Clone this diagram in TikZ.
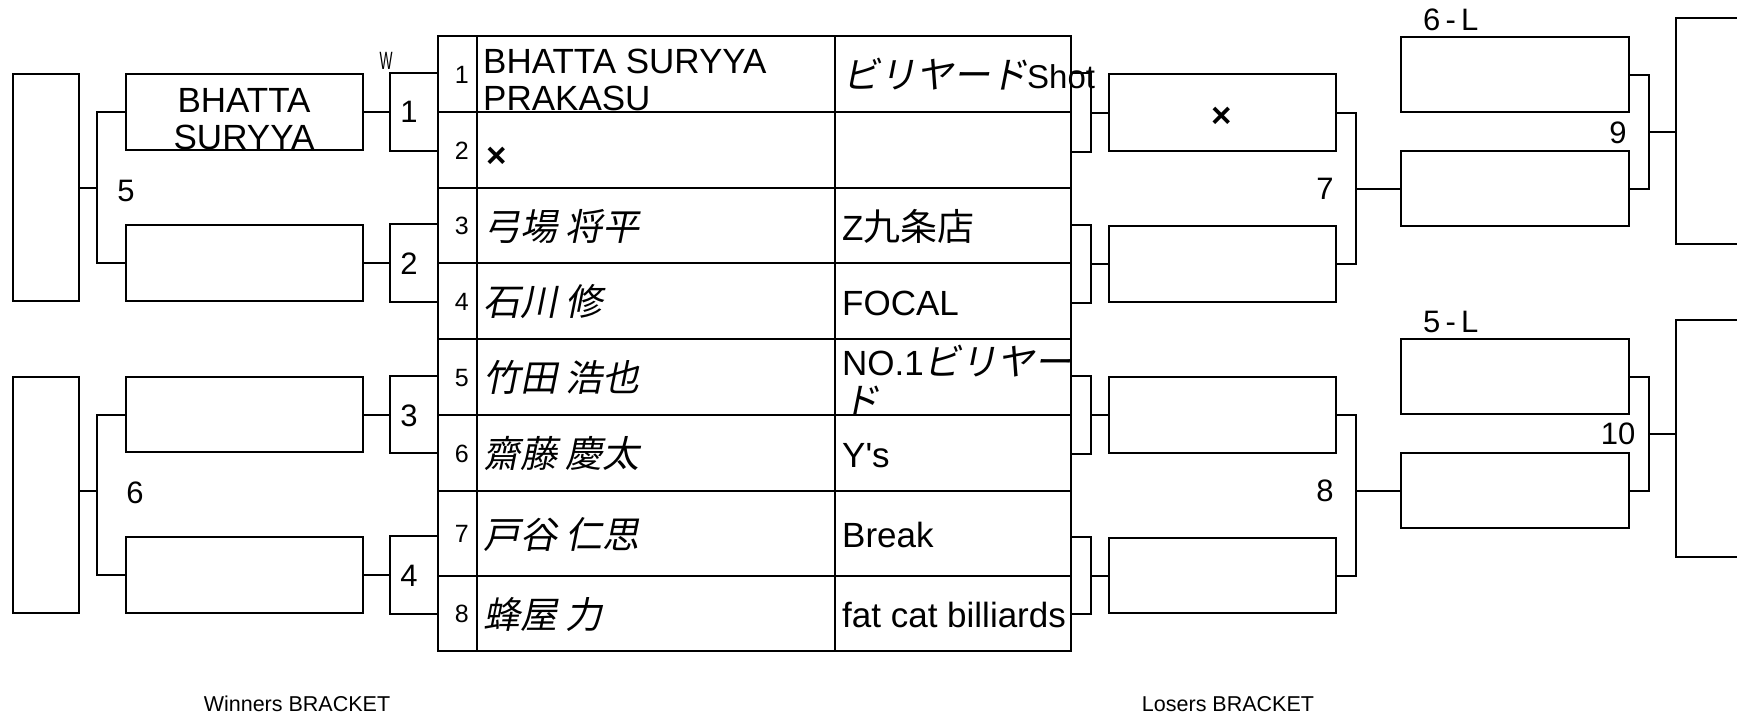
\documentclass[tikz,border=0pt]{standalone}
\usepackage{fontspec}
\setmainfont{Liberation Sans}[Ligatures=TeXOff]
\newfontfamily\jpf[FakeSlant=0.2]{Noto Sans CJK JP}
\newfontfamily\jpu{Noto Sans CJK JP}
\newfontfamily\narrowf[FakeStretch=0.55]{Liberation Sans}
\newcommand\jpi{\jpf\fontsize{37}{37}\selectfont}
\newcommand\jpr{\jpu\fontsize{37}{37}\selectfont}
\usetikzlibrary{calc}
\tikzset{
  ln/.style={line width=2pt},
  box/.style={draw, line width=2pt, inner sep=0pt, rectangle},
  wbox/.style={box, minimum width=237pt},
  lbox/.style={box, minimum width=227pt},
  rbox/.style={box, minimum width=228pt},
  fbox/.style={box, minimum width=66pt},
  cell/.style={draw, line width=2pt, inner sep=0pt, rectangle},
  txt/.style={inner sep=0pt, font=\fontsize{35}{37}\selectfont, anchor=base west},
  num/.style={inner sep=0pt, font=\fontsize{31}{33}\selectfont},
  rowno/.style={inner sep=0pt, font=\fontsize{25}{27}\selectfont, anchor=base east},
  captxt/.style={inner sep=0pt, font=\fontsize{21.5}{23}\selectfont},
}
\begin{document}
\begin{tikzpicture}[x=1pt,y=-1pt]
\path[use as bounding box] (0,0) rectangle (1737,720);
\clip (0,0) rectangle (1737,720);

% ---------- table ----------
\foreach \i/\c/\h in {1/74/76, 2/150/76, 3/225.5/75, 4/301/76, 5/377/76, 6/453/76, 7/533.5/85, 8/613.5/75}{
  \node[cell, minimum width=39pt, minimum height=\h pt] (n\i) at (457.5,\c) {};
  \node[cell, minimum width=358pt, minimum height=\h pt] (m\i) at (656,\c) {};
  \node[cell, minimum width=236pt, minimum height=\h pt] (c\i) at (953,\c) {};
}
\foreach \i/\b in {1/83, 2/159, 3/234.5, 4/310, 5/386, 6/462, 7/542.5, 8/622.5}{
  \node[rowno] (rn\i) at (469,\b) {\i};
}

% ---------- winners bracket ----------
\node[fbox, minimum height=227pt] (wf1) at (46,187.5) {};
\node[fbox, minimum height=236pt] (wf2) at (46,495) {};
\node[wbox, minimum height=76pt] (wa) at (244.5,112) {};
\node[wbox, minimum height=76pt] (wb) at (244.5,263) {};
\node[wbox, minimum height=75pt] (wc) at (244.5,414.5) {};
\node[wbox, minimum height=76pt] (wd) at (244.5,575) {};

\draw[ln] (wa.west) -- ++(-28,0) coordinate (p5) |- (wb.west);
\draw[ln] (wf1.east) -- (wf1.east -| p5);
\draw[ln] (wc.west) -- ++(-28,0) coordinate (p6) |- (wd.west);
\draw[ln] ([yshift=4pt]wf2.east) -- ([yshift=4pt]wf2.east -| p6);

\foreach \t/\r/\k in {wa/n1/k1, wb/n3/k2, wc/n5/k3, wd/n7/k4}{
  \draw[ln] (\r.west |- \t.north) -- ++(-47,0) coordinate (\k) -- (\k |- \t.south) -- (\r.west |- \t.south);
  \draw[ln] (\t.east) -- (\t.east -| \k);
}
\node[num] (g1) at (409,112) {1};
\node[num] (g2) at (409,264) {2};
\node[num] (g3) at (409,416) {3};
\node[num] (g4) at (409,576) {4};
\node[num] (g5) at (126,191) {5};
\node[num] (g6) at (135,493) {6};
\node[inner sep=0pt, font=\narrowf\fontsize{25}{27}\selectfont] (wl) at (386,61) {W};

\node[txt, anchor=base] (wat) at (244,112) {\begin{tabular}[t]{@{}c@{}}BHATTA\\SURYYA\end{tabular}};

% ---------- losers bracket ----------
\node[lbox, minimum height=77pt] (la) at (1222.5,112.5) {};
\node[lbox, minimum height=76pt] (lb) at (1222.5,264) {};
\node[lbox, minimum height=76pt] (lc) at (1222.5,415) {};
\node[lbox, minimum height=75pt] (ld) at (1222.5,575.5) {};
\node[rbox, minimum height=75pt] (lf) at (1515,74.5) {};
\node[rbox, minimum height=75pt] (le) at (1515,188.5) {};
\node[rbox, minimum height=75pt] (lg) at (1515,376.5) {};
\node[rbox, minimum height=75pt] (lh) at (1515,490.5) {};
\node[box, minimum width=124pt, minimum height=226pt] (lfin1) at (1738,131) {};
\node[box, minimum width=124pt, minimum height=237pt] (lfin2) at (1738,438.5) {};

\foreach \t/\r/\q in {la/c1/q1, lb/c3/q2, lc/c5/q3, ld/c7/q4}{
  \draw[ln] (\r.east |- \t.north) -- ++(19,0) coordinate (\q) -- (\q |- \t.south) -- (\r.east |- \t.south);
  \draw[ln] (\t.west) -- (\t.west -| \q);
}
\draw[ln] (la.east) -- ++(19,0) coordinate (q7) |- (lb.east);
\draw[ln] (le.west) -- (le.west -| q7);
\draw[ln] (lc.east) -- ++(19,0) coordinate (q8) |- (ld.east);
\draw[ln] (lh.west) -- (lh.west -| q8);
\draw[ln] (lf.east) -- ++(19,0) coordinate (q9) |- (le.east);
\path ($(lf.east)!0.5!(le.east)+(19,0)$) coordinate (q9m);
\draw[ln] (q9m) -- (q9m -| lfin1.west);
\draw[ln] (lg.east) -- ++(19,0) coordinate (q10) |- (lh.east);
\path ($(lg.east)!0.5!(lh.east)+(19,0)$) coordinate (q10m);
\draw[ln] (q10m) -- (q10m -| lfin2.west);

\node[num] (g7) at (1325,189) {7};
\node[num] (g8) at (1325,491) {8};
\node[num] (g9) at (1618,133) {9};
\node[num] (g10) at (1618,434) {10};
\node[num, anchor=base west] (l6) at (1423,30) {6\,-\,L};
\node[num, anchor=base west] (l5) at (1423,332) {5\,-\,L};
\node[inner sep=0pt, font=\bfseries\fontsize{35}{37}\selectfont] (lax) at (1222,117) {×};

% ---------- table texts ----------
\node[txt] (t1n) at (483,73) {\begin{tabular}[t]{@{}l@{}}BHATTA SURYYA\\PRAKASU\end{tabular}};
\node[txt] (t1c) at (842,88) {{\jpi ビリヤード}{\fontsize{33}{33}\selectfont Shot}};
\node[txt, font=\bfseries\fontsize{35}{37}\selectfont] (t2n) at (486,167) {×};
\node[txt] (t3n) at (483,240) {\jpi 弓場 将平};
\node[txt] (t3c) at (842,240) {Z{\jpr 九条店}};
\node[txt] (t4n) at (483,315.5) {\jpi 石川 修};
\node[txt] (t4c) at (842,315) {FOCAL};
\node[txt] (t5n) at (483,391.5) {\jpi 竹田 浩也};
\node[txt] (t5c) at (842,375) {\begin{tabular}[t]{@{}l@{}}NO.1{\jpi ビリヤー}\\{\jpi ド}\end{tabular}};
\node[txt] (t6n) at (483,467.5) {\jpi 齋藤 慶太};
\node[txt] (t6c) at (842,467) {Y's};
\node[txt] (t7n) at (483,548) {\jpi 戸谷 仁思};
\node[txt] (t7c) at (842,547.5) {Break};
\node[txt] (t8n) at (483,628) {\jpi 蜂屋 力};
\node[txt] (t8c) at (842,627.5) {fat cat billiards};

% ---------- captions ----------
\node[captxt] (wcap) at (297,704) {Winners BRACKET};
\node[captxt] (lcap) at (1228,704) {Losers BRACKET};
\end{tikzpicture}
\end{document}
